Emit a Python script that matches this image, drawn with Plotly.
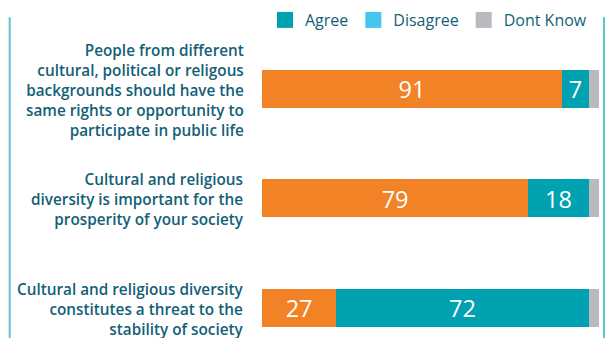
import plotly.graph_objects as go

statements = [
    "People from different<br>cultural, political or religous<br>backgrounds should have the<br>same rights or opportunity to<br>participate in public life",
    "Cultural and religious<br>diversity is important for the<br>prosperity of your society",
    "Cultural and religious diversity<br>constitutes a threat to the<br>stability of society",
]
# bar lengths as drawn in the picture (share of full bar)
agree_len = [89, 79, 22]
disagree_len = [8, 18, 75]
dontknow_len = [3, 3, 3]
# data labels printed on the bars
agree_lbl = ["91", "79", "27"]
disagree_lbl = ["7", "18", "72"]

legend_names = ["Agree", "Disagree", "Dont Know"]
legend_colors = ["#00a1b1", "#45c6ea", "#b9babd"]

ORANGE = "#f28226"
TEAL = "#00a1b1"
GREY = "#b9babd"
TXT = "#135f78"
FONT = "Open Sans"

y = list(range(len(statements)))
fig = go.Figure()
common = dict(orientation="h", width=0.347, showlegend=False,
              marker_line_width=0, hoverinfo="skip")
lblfont = dict(color="white", size=25, family=FONT)
fig.add_trace(go.Bar(y=y, x=agree_len, marker_color=ORANGE, text=agree_lbl,
                     textposition="inside", insidetextanchor="middle", textangle=0,
                     textfont=lblfont, **common))
fig.add_trace(go.Bar(y=y, x=disagree_len, marker_color=TEAL, text=disagree_lbl,
                     textposition="inside", insidetextanchor="middle", textangle=0,
                     textfont=lblfont, **common))
fig.add_trace(go.Bar(y=y, x=dontknow_len, marker_color=GREY, **common))

for name, col in zip(legend_names, legend_colors):
    fig.add_trace(go.Scatter(x=[None], y=[None], mode="markers", name=name,
                             marker=dict(symbol="square", size=16, color=col)))

for i, s in enumerate(statements):
    fig.add_annotation(text=s, xref="paper", x=0, xshift=-16, xanchor="right",
                       yref="y", y=i, yanchor="middle", yshift=-1,
                       align="right", showarrow=False,
                       font=dict(family=FONT, size=15.3, color=TXT, weight=600))

# decorative side rules
for px in (9.7, 604):
    fig.add_shape(type="line", xref="paper", yref="paper",
                  x0=(px - 262) / 337, x1=(px - 262) / 337, y0=1.055, y1=-0.02,
                  line=dict(color="#5bc4cf", width=2))

fig.update_layout(
    width=606, height=338, barmode="stack",
    margin=dict(l=262, r=7, t=34, b=0),
    paper_bgcolor="white", plot_bgcolor="white",
    xaxis=dict(range=[0, 100], visible=False, fixedrange=True),
    yaxis=dict(range=[2.278, -0.5], visible=False, fixedrange=True),
    legend=dict(orientation="h", x=(592 - 262) / 337, xanchor="right",
                y=1 + (34 - 20) / 304, yanchor="middle", traceorder="normal",
                font=dict(family=FONT, size=16, color=TXT),
                bgcolor="rgba(0,0,0,0)"),
    font=dict(family=FONT),
)

fig.write_html("out.html")
